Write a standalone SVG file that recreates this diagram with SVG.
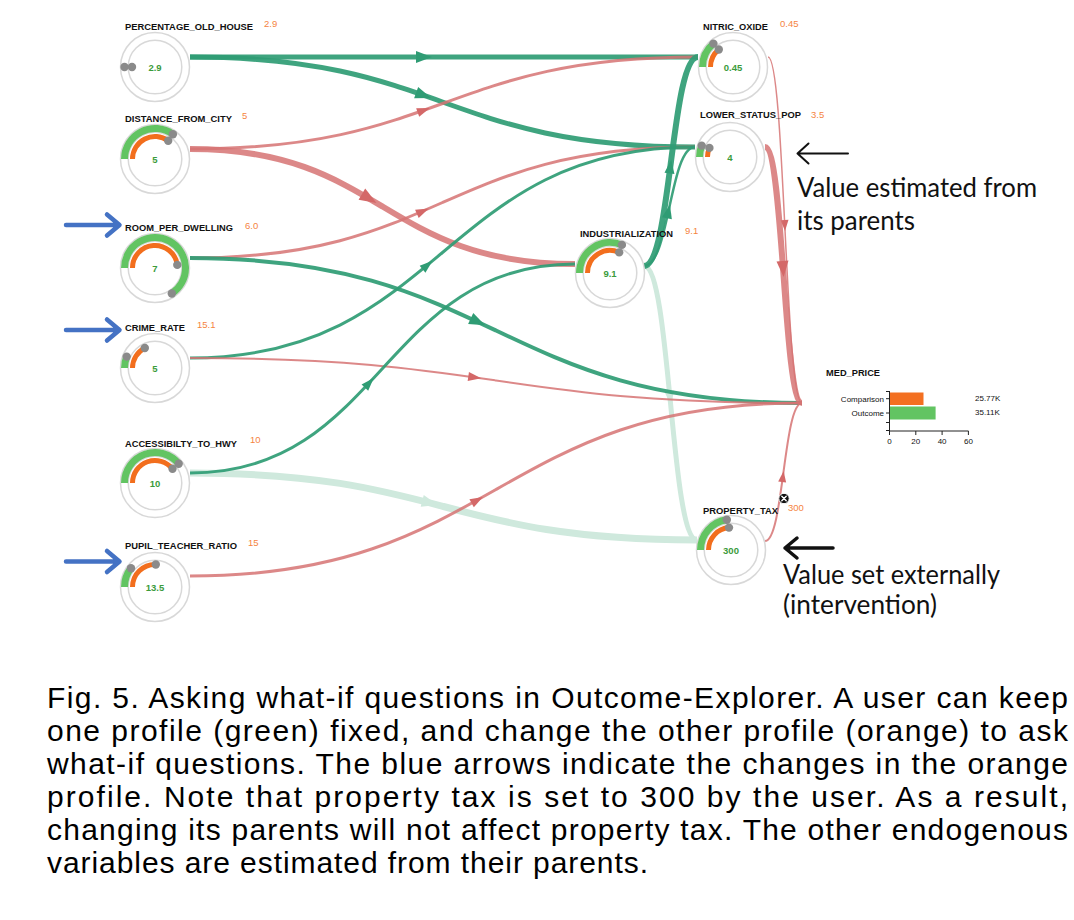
<svg xmlns="http://www.w3.org/2000/svg" width="1074" height="920" viewBox="0 0 1074 920">
<style>
.e{fill:none}
.g{stroke:#2f9c74;stroke-opacity:.92}
.r{stroke:#d67373;stroke-opacity:.85}
.p{stroke:#cfe9dd}
.ring{fill:none;stroke:#d8d8d8;stroke-width:1.5}
.ga{fill:none;stroke:#62c462;stroke-width:7}
.oa{fill:none;stroke:#f26e1d;stroke-width:5}
.dot{fill:#8a8a8a}
.lbl{font-family:"Liberation Sans",Arial,sans-serif;font-weight:bold;font-size:9.5px;fill:#111}
.ov{font-family:"Liberation Sans",Arial,sans-serif;font-size:9.5px;fill:#f5843f}
.gv{font-family:"Liberation Sans",Arial,sans-serif;font-weight:bold;font-size:9.5px;fill:#3b9b3b;text-anchor:middle}
.ax{font-family:"Liberation Sans",Arial,sans-serif;font-size:8px;fill:#111}
.blue{fill:none;stroke:#4472c4;stroke-width:4.5;stroke-linecap:round;stroke-linejoin:round}
.blk{fill:none;stroke:#111;stroke-linecap:round;stroke-linejoin:round}
.note{font-family:Lato,"Open Sans",sans-serif;font-size:26px;fill:#111}
.cap{font-family:"Liberation Sans",Arial,sans-serif;font-size:30px;fill:#000}
</style>
<defs>
<marker id="mGL" markerUnits="userSpaceOnUse" markerWidth="40" markerHeight="14" refX="28" refY="6" orient="auto" overflow="visible"><path d="M0,0 L16,6 L0,12 z" fill="#2f9c74"/></marker>
<marker id="mGLs" markerUnits="userSpaceOnUse" markerWidth="40" markerHeight="14" refX="26" refY="4.5" orient="auto" overflow="visible"><path d="M0,0 L13,4.5 L0,9 z" fill="#2f9c74"/></marker>
<marker id="mRL" markerUnits="userSpaceOnUse" markerWidth="40" markerHeight="14" refX="24" refY="6.5" orient="auto" overflow="visible"><path d="M0,0 L17,6.5 L0,13 z" fill="#d46868"/></marker>
<marker id="mRLs" markerUnits="userSpaceOnUse" markerWidth="40" markerHeight="14" refX="28" refY="4.5" orient="auto" overflow="visible"><path d="M0,0 L13,4.5 L0,9 z" fill="#d46868"/></marker>
<marker id="mPL" markerUnits="userSpaceOnUse" markerWidth="40" markerHeight="14" refX="22" refY="6" orient="auto" overflow="visible"><path d="M0,0 L16,6 L0,12 z" fill="#cfe9dd"/></marker>
<marker id="mGS" markerUnits="userSpaceOnUse" markerWidth="20" markerHeight="14" refX="12" refY="5" orient="auto" overflow="visible"><path d="M0,0 L14,5 L0,10 z" fill="#2f9c74"/></marker>
<marker id="mPS" markerUnits="userSpaceOnUse" markerWidth="20" markerHeight="14" refX="12" refY="5" orient="auto" overflow="visible"><path d="M0,0 L14,5 L0,10 z" fill="#cfe9dd"/></marker>
<marker id="mRS" markerUnits="userSpaceOnUse" markerWidth="20" markerHeight="14" refX="14" refY="6" orient="auto" overflow="visible"><path d="M0,0 L16,6 L0,12 z" fill="#d46868"/></marker>
<marker id="mRSs" markerUnits="userSpaceOnUse" markerWidth="20" markerHeight="14" refX="10" refY="4" orient="auto" overflow="visible"><path d="M0,0 L11,4 L0,8 z" fill="#d46868"/></marker>
</defs>
<rect width="1074" height="920" fill="#fff"/>

<g id="connectors">
<path class="e p" stroke-width="7" marker-mid="url(#mPL)" d="M190,473 C316.8,473 380.1,489.8 443.5,506.5 C506.9,523.3 570.3,540 697,540"/>
<path class="e p" stroke-width="5" marker-mid="url(#mPS)" d="M644,266 C657.3,266 663.9,334.5 670.5,403 C677.1,471.5 683.8,540 697,540"/>
<path class="e g" stroke-width="5" marker-mid="url(#mGL)" d="M190,57 C317,57 380.5,57 444,57 C507.5,57 571,57 698,57"/>
<path class="e g" stroke-width="5" marker-mid="url(#mGL)" d="M190,57 C316.3,57 379.4,79.5 442.5,102 C505.6,124.5 568.8,147 695,147"/>
<path class="e r" stroke-width="3" marker-mid="url(#mRLs)" d="M190,149 C317,149 380.5,126 444,103 C507.5,80 571,57 698,57"/>
<path class="e r" stroke-width="6" marker-mid="url(#mRL)" d="M190,149 C286.3,149 334.4,177.8 382.5,206.5 C430.6,235.3 478.8,264 575,264"/>
<path class="e r" stroke-width="3" marker-mid="url(#mRLs)" d="M190,258 C316.3,258 379.4,230.3 442.5,202.5 C505.6,174.8 568.8,147 695,147"/>
<path class="e g" stroke-width="4" marker-mid="url(#mGL)" d="M190,258 C343,258 419.5,294.3 496,330.5 C572.5,366.8 649,403 802,403"/>
<path class="e g" stroke-width="3" marker-mid="url(#mGLs)" d="M190,358 C316.3,358 379.4,305.3 442.5,252.5 C505.6,199.8 568.8,147 695,147"/>
<path class="e r" stroke-width="2" marker-mid="url(#mRLs)" d="M190,358 C343,358 419.5,369.3 496,380.5 C572.5,391.8 649,403 802,403"/>
<path class="e g" stroke-width="3" marker-mid="url(#mGLs)" d="M190,473 C286.3,473 334.4,420.8 382.5,368.5 C430.6,316.3 478.8,264 575,264"/>
<path class="e r" stroke-width="3" marker-mid="url(#mRLs)" d="M190,576 C343,576 419.5,532.8 496,489.5 C572.5,446.3 649,403 802,403"/>
<path class="e g" stroke-width="6" marker-mid="url(#mGS)" d="M644,266 C657.5,266 664.3,213.8 671,161.5 C677.8,109.3 684.5,57 698,57"/>
<path class="e g" stroke-width="2.5" marker-mid="url(#mGS)" d="M644,266 C656.8,266 663.1,236.3 669.5,206.5 C675.9,176.8 682.3,147 695,147"/>
<path class="e r" stroke-width="1.5" marker-mid="url(#mRSs)" d="M768,57 C776.5,57 780.8,143.5 785,230 C789.3,316.5 793.5,403 802,403"/>
<path class="e r" stroke-width="6" marker-mid="url(#mRS)" d="M765,147 C774.3,147 778.9,211 783.5,275 C788.1,339 792.8,403 802,403"/>
<path class="e r" stroke-width="2" marker-mid="url(#mRSs)" d="M765,541 C774.3,541 778.9,506.5 783.5,472 C788.1,437.5 792.8,403 802,403"/>
</g>

<g id="node-percentage-old-house">
<circle class="ring" cx="155" cy="67" r="34.5"/>
<circle class="ring" cx="155" cy="67" r="26.8"/>
<circle class="dot" cx="124.5" cy="67" r="4.2"/>
<circle class="dot" cx="132" cy="67" r="4.2"/>
<text class="lbl" x="125" y="29.5" textLength="128" lengthAdjust="spacingAndGlyphs">PERCENTAGE_OLD_HOUSE</text>
<text class="ov" x="264" y="26.5">2.9</text>
<text class="gv" x="155" y="71">2.9</text>
</g>

<g id="node-distance-from-city">
<circle class="ring" cx="155" cy="159" r="34.5"/>
<circle class="ring" cx="155" cy="159" r="26.8"/>
<path class="ga" d="M124.5,159 A30.5,30.5 0 0 1 172.9,134.3"/>
<path class="oa" d="M132.5,159 A22.5,22.5 0 0 1 168.2,140.8"/>
<circle class="dot" cx="172.9" cy="134.3" r="4.2"/>
<circle class="dot" cx="168.2" cy="140.8" r="4.2"/>
<text class="lbl" x="125" y="122" textLength="107" lengthAdjust="spacingAndGlyphs">DISTANCE_FROM_CITY</text>
<text class="ov" x="242" y="118.5">5</text>
<text class="gv" x="155" y="163">5</text>
</g>

<g id="node-room-per-dwelling">
<circle class="ring" cx="155" cy="268" r="34.5"/>
<circle class="ring" cx="155" cy="268" r="26.8"/>
<path class="ga" d="M124.5,268 A30.5,30.5 0 1 1 171.8,293.5"/>
<path class="oa" d="M132.5,268 A22.5,22.5 0 0 1 177.3,264.9"/>
<circle class="dot" cx="171.8" cy="293.5" r="4.2"/>
<circle class="dot" cx="177.3" cy="264.9" r="4.2"/>
<text class="lbl" x="125" y="231" textLength="108" lengthAdjust="spacingAndGlyphs">ROOM_PER_DWELLING</text>
<text class="ov" x="245" y="229">6.0</text>
<text class="gv" x="155" y="272">7</text>
</g>

<g id="node-crime-rate">
<circle class="ring" cx="155" cy="368" r="34.5"/>
<circle class="ring" cx="155" cy="368" r="26.8"/>
<path class="ga" d="M124.5,368 A30.5,30.5 0 0 1 126.7,356.6"/>
<path class="oa" d="M132.5,368 A22.5,22.5 0 0 1 144.8,348"/>
<circle class="dot" cx="126.7" cy="356.6" r="4.2"/>
<circle class="dot" cx="144.8" cy="348" r="4.2"/>
<text class="lbl" x="125" y="331" textLength="60" lengthAdjust="spacingAndGlyphs">CRIME_RATE</text>
<text class="ov" x="197" y="327.5">15.1</text>
<text class="gv" x="155" y="372">5</text>
</g>

<g id="node-accessibility-to-hwy">
<circle class="ring" cx="155" cy="483" r="34.5"/>
<circle class="ring" cx="155" cy="483" r="26.8"/>
<path class="ga" d="M124.5,483 A30.5,30.5 0 0 1 178.7,463.8"/>
<path class="oa" d="M132.5,483 A22.5,22.5 0 0 1 172.5,468.8"/>
<circle class="dot" cx="178.7" cy="463.8" r="4.2"/>
<circle class="dot" cx="172.5" cy="468.8" r="4.2"/>
<text class="lbl" x="125" y="447" textLength="112" lengthAdjust="spacingAndGlyphs">ACCESSIBILTY_TO_HWY</text>
<text class="ov" x="250" y="443">10</text>
<text class="gv" x="155" y="487">10</text>
</g>

<g id="node-pupil-teacher-ratio">
<circle class="ring" cx="155" cy="587" r="34.5"/>
<circle class="ring" cx="155" cy="587" r="26.8"/>
<path class="ga" d="M124.5,587 A30.5,30.5 0 0 1 131,568.2"/>
<path class="oa" d="M132.5,587 A22.5,22.5 0 0 1 155.8,564.5"/>
<circle class="dot" cx="131" cy="568.2" r="4.2"/>
<circle class="dot" cx="155.8" cy="564.5" r="4.2"/>
<text class="lbl" x="125" y="549" textLength="112" lengthAdjust="spacingAndGlyphs">PUPIL_TEACHER_RATIO</text>
<text class="ov" x="248" y="545.5">15</text>
<text class="gv" x="155" y="591">13.5</text>
</g>

<g id="node-industrialization">
<circle class="ring" cx="610" cy="273" r="34.5"/>
<circle class="ring" cx="610" cy="273" r="26.8"/>
<path class="ga" d="M579.5,273 A30.5,30.5 0 0 1 621.9,244.9"/>
<path class="oa" d="M587.5,273 A22.5,22.5 0 0 1 619.2,252.4"/>
<circle class="dot" cx="621.9" cy="244.9" r="4.2"/>
<circle class="dot" cx="619.2" cy="252.4" r="4.2"/>
<text class="lbl" x="580" y="237" textLength="93" lengthAdjust="spacingAndGlyphs">INDUSTRIALIZATION</text>
<text class="ov" x="685" y="234">9.1</text>
<text class="gv" x="610" y="277">9.1</text>
</g>

<g id="node-nitric-oxide">
<circle class="ring" cx="733" cy="67" r="34.5"/>
<circle class="ring" cx="733" cy="67" r="26.8"/>
<path class="ga" d="M702.5,67 A30.5,30.5 0 0 1 713.4,43.6"/>
<path class="oa" d="M710.5,67 A22.5,22.5 0 0 1 718.8,49.5"/>
<circle class="dot" cx="713.4" cy="43.6" r="4.2"/>
<circle class="dot" cx="718.8" cy="49.5" r="4.2"/>
<text class="lbl" x="703" y="30" textLength="65" lengthAdjust="spacingAndGlyphs">NITRIC_OXIDE</text>
<text class="ov" x="780" y="26.5">0.45</text>
<text class="gv" x="733" y="71">0.45</text>
</g>

<g id="node-lower-status-pop">
<circle class="ring" cx="730" cy="157" r="34.5"/>
<circle class="ring" cx="730" cy="157" r="26.8"/>
<path class="ga" d="M699.5,157 A30.5,30.5 0 0 1 701.7,145.6"/>
<path class="oa" d="M707.5,157 A22.5,22.5 0 0 1 709.4,147.9"/>
<circle class="dot" cx="701.7" cy="145.6" r="4.2"/>
<circle class="dot" cx="709.4" cy="147.9" r="4.2"/>
<text class="lbl" x="700" y="118" textLength="101" lengthAdjust="spacingAndGlyphs">LOWER_STATUS_POP</text>
<text class="ov" x="811" y="117.5">3.5</text>
<text class="gv" x="730" y="161">4</text>
</g>

<g id="node-property-tax">
<circle class="ring" cx="731" cy="550" r="34.5"/>
<circle class="ring" cx="731" cy="550" r="26.8"/>
<path class="ga" d="M700.5,550 A30.5,30.5 0 0 1 726.8,519.8"/>
<path class="oa" d="M708.5,550 A22.5,22.5 0 0 1 729,527.6"/>
<circle class="dot" cx="726.8" cy="519.8" r="4.2"/>
<circle class="dot" cx="729" cy="527.6" r="4.2"/>
<text class="lbl" x="703" y="514" textLength="75" lengthAdjust="spacingAndGlyphs">PROPERTY_TAX</text>
<circle cx="784" cy="498.5" r="5.2" fill="#111" stroke="#fff" stroke-width="1"/>
<path d="M781.8,496.3 L786.2,500.7 M786.2,496.3 L781.8,500.7" stroke="#fff" stroke-width="1.4" stroke-linecap="round"/>
<text class="ov" x="788" y="511">300</text>
<text class="gv" x="731" y="554">300</text>
</g>

<g id="node-med-price">
<text class="lbl" x="826" y="376" textLength="54" lengthAdjust="spacingAndGlyphs">MED_PRICE</text>
<rect x="890" y="392.5" width="33.5" height="12.5" fill="#f37021"/>
<rect x="890" y="406.5" width="45.6" height="13" fill="#62c462"/>
<path d="M889.5,391 V431 H968.5" fill="none" stroke="#222" stroke-width="1"/>
<path d="M886,391.5 H889.5 M886,398.7 H889.5 M886,413 H889.5 M886,422.5 H889.5 M886,430.5 H889.5 M889.5,431 V435 M915.8,431 V435 M942.1,431 V435 M968.4,431 V435" fill="none" stroke="#222" stroke-width="1"/>
<text class="ax" x="884" y="401.5" text-anchor="end">Comparison</text>
<text class="ax" x="884" y="416" text-anchor="end">Outcome</text>
<text class="ax" x="889.5" y="444" text-anchor="middle">0</text>
<text class="ax" x="915.8" y="444" text-anchor="middle">20</text>
<text class="ax" x="942.1" y="444" text-anchor="middle">40</text>
<text class="ax" x="968.4" y="444" text-anchor="middle">60</text>
<text class="ax" x="975" y="401">25.77K</text>
<text class="ax" x="975" y="414.5">35.11K</text>
</g>

<g id="intervention-arrows">
<path class="blue" d="M66,225 H119 M107,214.5 L119.5,225 L107,235.5"/>
<path class="blue" d="M66,330 H119 M107,319.5 L119.5,330 L107,340.5"/>
<path class="blue" d="M66,561.5 H119 M107,551 L119.5,561.5 L107,572"/>
</g>

<g id="annotations">
<path class="blk" stroke-width="2" d="M848,153.5 H797.5 M808.5,143.5 L797.5,153.5 L808.5,163.5"/>
<text class="note" x="797" y="197" textLength="240" lengthAdjust="spacingAndGlyphs">Value estimated from</text>
<text class="note" x="797" y="230" textLength="118" lengthAdjust="spacingAndGlyphs">its parents</text>
<path class="blk" stroke-width="3.5" d="M833,548 H785 M797,538 L785,548 L797,558"/>
<text class="note" x="783" y="584" textLength="217" lengthAdjust="spacingAndGlyphs">Value set externally</text>
<text class="note" x="783" y="614" textLength="154" lengthAdjust="spacingAndGlyphs">(intervention)</text>
</g>

<g id="caption">
<text class="cap" x="47" y="708" textLength="1021" lengthAdjust="spacing">Fig. 5. Asking what-if questions in Outcome-Explorer. A user can keep</text>
<text class="cap" x="47" y="741" textLength="1021" lengthAdjust="spacing">one profile (green) fixed, and change the other profile (orange) to ask</text>
<text class="cap" x="47" y="774" textLength="1021" lengthAdjust="spacing">what-if questions. The blue arrows indicate the changes in the orange</text>
<text class="cap" x="47" y="807" textLength="1021" lengthAdjust="spacing">profile. Note that property tax is set to 300 by the user. As a result,</text>
<text class="cap" x="47" y="840" textLength="1021" lengthAdjust="spacing">changing its parents will not affect property tax. The other endogenous</text>
<text class="cap" x="47" y="873" textLength="601" lengthAdjust="spacing">variables are estimated from their parents.</text>
</g>
</svg>
